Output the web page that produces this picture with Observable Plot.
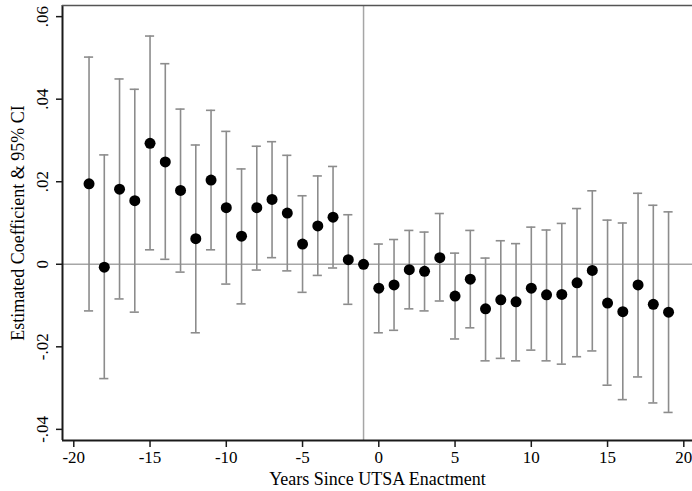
<!DOCTYPE html>
<html>
<head>
<meta charset="utf-8">
<script src="https://cdn.jsdelivr.net/npm/d3@7"></script>
<script src="https://cdn.jsdelivr.net/npm/@observablehq/plot@0.6"></script>
<style>
  html, body { margin: 0; padding: 0; background: #fff; }
  svg { display: block; }
</style>
</head>
<body>
<div id="chart"></div>
<script>
const years = [-19,-18,-17,-16,-15,-14,-13,-12,-11,-10,-9,-8,-7,-6,-5,-4,-3,-2,-1,0,1,2,3,4,5,6,7,8,9,10,11,12,13,14,15,16,17,18,19];
const coef = [0.0195,-0.0007,0.0182,0.0154,0.0293,0.0248,0.0179,0.0062,0.0204,0.0137,0.0068,0.0137,0.0157,0.0124,0.0049,0.0093,0.0114,0.0011,0,
  -0.0058,-0.0050,-0.0013,-0.0017,0.0016,-0.0077,-0.0036,-0.0108,-0.0086,-0.0091,-0.0058,-0.0074,-0.0073,-0.0045,-0.0015,-0.0094,-0.0115,-0.0050,-0.0097,-0.0116];
const ciHigh = [0.0502,0.0265,0.0449,0.0424,0.0553,0.0486,0.0376,0.0289,0.0373,0.0322,0.0231,0.0286,0.0297,0.0264,0.0166,0.0214,0.0237,0.0120,null,
  0.0049,0.0060,0.0082,0.0078,0.0123,0.0027,0.0082,0.0015,0.0057,0.0050,0.0090,0.0083,0.0099,0.0135,0.0178,0.0107,0.0100,0.0172,0.0143,0.0127];
const ciLow = [-0.0113,-0.0277,-0.0084,-0.0116,0.0035,0.0012,-0.0019,-0.0166,0.0035,-0.0048,-0.0096,-0.0014,0.0016,-0.0016,-0.0068,-0.0027,-0.0009,-0.0097,null,
  -0.0166,-0.0160,-0.0108,-0.0113,-0.0089,-0.0181,-0.0154,-0.0234,-0.0228,-0.0234,-0.0208,-0.0234,-0.0242,-0.0224,-0.0210,-0.0293,-0.0328,-0.0273,-0.0336,-0.0359];
const xTicks = [-20,-15,-10,-5,0,5,10,15,20];
const yTicks = [-0.04,-0.02,0,0.02,0.04,0.06];
const yTickLabels = ["-.04","-.02","0",".02",".04",".06"];
const xTitle = "Years Since UTSA Enactment";
const yTitle = "Estimated Coefficient & 95% CI";
const eventYear = -1;

const data = years.map((x, i) => ({x, coef: coef[i], lo: ciLow[i], hi: ciHigh[i]}));
const ci = data.filter(d => d.lo != null);
const xDomain = [-20.74, 20.57];
const yDomain = [-0.0427, 0.0627];
const capHalf = 0.3;
const fontFamily = "'Liberation Serif', 'Times New Roman', serif";
const fs = 18;
const tfs = 17;

const chart = Plot.plot({
  width: 692,
  height: 491,
  marginLeft: 62,
  marginRight: 0,
  marginTop: 5,
  marginBottom: 51,
  style: {fontFamily, fontSize: fs + "px", background: "#fff", color: "#000"},
  x: {domain: xDomain},
  y: {domain: yDomain},
  marks: [
    Plot.ruleY([0], {stroke: "#a6a6a6", strokeWidth: 1.5}),
    Plot.ruleX([eventYear], {stroke: "#a6a6a6", strokeWidth: 1.5}),
    Plot.ruleX(ci, {x: "x", y1: "lo", y2: "hi", stroke: "#8c8c8c", strokeWidth: 1.6}),
    Plot.ruleY(ci, {y: "hi", x1: d => d.x - capHalf, x2: d => d.x + capHalf, stroke: "#8c8c8c", strokeWidth: 1.6}),
    Plot.ruleY(ci, {y: "lo", x1: d => d.x - capHalf, x2: d => d.x + capHalf, stroke: "#8c8c8c", strokeWidth: 1.6}),
    Plot.dot(data, {x: "x", y: "coef", r: 5.5, fill: "#000", stroke: "none"}),
    Plot.ruleX([xDomain[0]], {stroke: "#1a1a1a", strokeWidth: 2}),
    Plot.ruleY([yDomain[0]], {stroke: "#1a1a1a", strokeWidth: 2}),
    Plot.ruleY([yDomain[1]], {stroke: "#555", strokeWidth: 1.5}),
    Plot.axisX({ticks: xTicks, tickSize: 7, tickPadding: 3, tickFormat: d => String(d), label: null, fontSize: tfs, stroke: "#1a1a1a", strokeWidth: 1.5}),
    Plot.axisY({ticks: yTicks, tickSize: 6, tickPadding: 9, tickRotate: -90, tickFormat: d => yTickLabels[yTicks.indexOf(d)], label: null, fontSize: tfs, stroke: "#1a1a1a", strokeWidth: 1.5}),
    Plot.text([xTitle], {frameAnchor: "bottom", dy: 39, lineAnchor: "middle", textAnchor: "middle", fontSize: fs, fill: "#000"}),
    Plot.text([yTitle], {frameAnchor: "left", dx: -44, rotate: -90, lineAnchor: "middle", textAnchor: "middle", fontSize: fs, fill: "#000"})
  ]
});
document.getElementById("chart").appendChild(chart);
</script>
</body>
</html>
